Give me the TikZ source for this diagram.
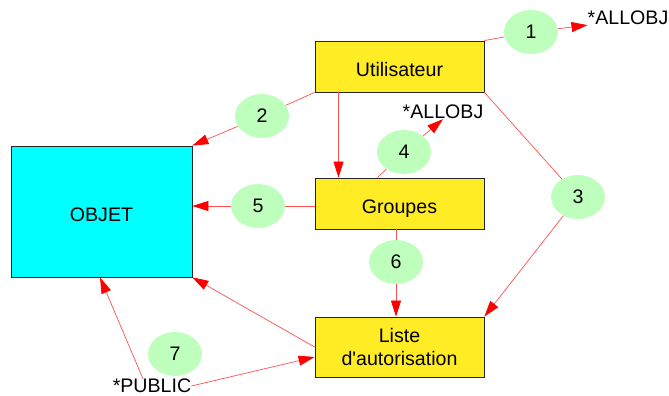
\documentclass[tikz,border=0pt]{standalone}
\usepackage{fontspec}
\newfontfamily\arial{Liberation Sans}
\usepackage{tikz}
\usetikzlibrary{shapes,arrows,arrows.meta}
\definecolor{boxyellow}{RGB}{255,236,36}
\definecolor{objcyan}{RGB}{0,255,255}
\definecolor{bubblegreen}{RGB}{190,255,190}
\definecolor{linkred}{RGB}{255,80,80}
\tikzstyle{block} = [rectangle, draw=black!85, line width=0.8pt, fill=boxyellow,
    align=center, minimum width=169pt, minimum height=51pt]
\tikzstyle{oneline} = [text height=19pt, text depth=0pt]
\tikzstyle{objblock} = [rectangle, draw=black!85, line width=0.8pt, fill=objcyan,
    minimum width=181pt, minimum height=131pt]
\tikzstyle{bubble} = [ellipse, fill=bubblegreen, inner sep=0pt,
    minimum width=54pt, minimum height=44pt]
\tikzstyle{tag} = [inner sep=0pt]
\tikzstyle{line} = [draw=linkred, line width=0.7pt]
\tikzstyle{arrow} = [draw=linkred, line width=0.7pt, -{Triangle[length=16pt,width=10pt,color=red]}]

\begin{document}
\begin{tikzpicture}[x=1pt, y=-1pt, font=\arial\fontsize{19.6}{23}\selectfont]
			\useasboundingbox (0,0) rectangle (669,396);
			% Place nodes
			\node [block, oneline] (util) at (399.5,66.5) {Utilisateur};
			\node [block, oneline] (grp) at (399.5,203.5) {Groupes};
			\node [block, minimum height=60pt] (liste) at (399.5,347) {Liste\\d'autorisation};
			\node [objblock, oneline] (objet) at (101.5,211.5) {OBJET};

			\node [tag] (allobjA) at (628,18) {*ALLOBJ};
			\node [tag] (allobjB) at (443,112) {*ALLOBJ};
			\node [tag] (public) at (152,386) {*PUBLIC};

			\node [bubble] (e1) at (531,32) {1};
			\node [bubble] (e2) at (262,116) {2};
			\node [bubble] (e3) at (578,197) {3};
			\node [bubble] (e4) at (404,152) {4};
			\node [bubble] (e5) at (258,206) {5};
			\node [bubble] (e6) at (396,262) {6};
			\node [bubble] (e7) at (175,354) {7};

			% Draw edges
			\path [line] (util.north east) -- (e1);
			\path [arrow] (e1) -- (allobjA.south west);
			\path [line] (util.south west) -- (e2);
			\path [arrow] (e2) -- (objet.north east);
			\path [line] (util.south east) -- (e3);
			\path [arrow] (e3) -- (liste.north east);
			\path [arrow] ([xshift=-61pt]util.south) -- ([xshift=-61pt]grp.north);

			\path [line] ([xshift=-22pt]grp.north) -- (e4);
			\path [arrow] (e4) -- (allobjB.south);
			\path [line] (grp.west |- e5) -- (e5);
			\path [arrow] (e5) -- (objet.east |- e5);
			\path [line] (grp.south -| e6) -- (e6);
			\path [arrow] (e6) -- (liste.north -| e6);

			\path [arrow] (liste.west) -- (objet.south east);
			\path [arrow] ([xshift=-9pt]public.north) -- ([xshift=-1.5pt]objet.south);
			\path [arrow] (public.east) -- ([yshift=-10pt]liste.west);
\end{tikzpicture}
\end{document}
